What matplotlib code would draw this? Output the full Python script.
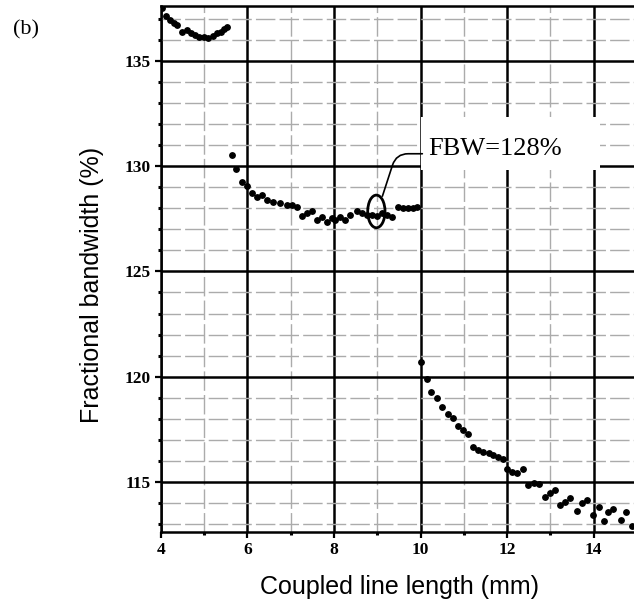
import matplotlib
matplotlib.use('Agg')
import matplotlib.pyplot as plt
from matplotlib.patches import Ellipse, Rectangle

# Segment 1: short lengths
len_a = [4.02, 4.12, 4.21, 4.31, 4.38, 4.50, 4.60, 4.69, 4.79, 4.89,
         5.00, 5.10, 5.20, 5.29, 5.39, 5.46, 5.52]
fbw_a = [137.50, 137.14, 136.95, 136.82, 136.71, 136.36, 136.47, 136.34, 136.24, 136.15,
         136.13, 136.08, 136.19, 136.32, 136.39, 136.51, 136.63]

# Segment 2: middle lengths (FBW ~128%)
len_b = [5.64, 5.73, 5.87, 5.99, 6.10, 6.22, 6.33, 6.45, 6.60, 6.76,
         6.91, 7.03, 7.15, 7.26, 7.37, 7.49, 7.60, 7.72, 7.83, 7.95,
         8.03, 8.14, 8.26, 8.37, 8.53, 8.64, 8.76, 8.87, 8.99, 9.10,
         9.22, 9.33, 9.49, 9.60, 9.72, 9.83, 9.91]
fbw_b = [130.53, 129.86, 129.27, 129.06, 128.74, 128.55, 128.63, 128.40, 128.32, 128.24,
         128.16, 128.16, 128.08, 127.64, 127.79, 127.89, 127.45, 127.60, 127.37, 127.53,
         127.45, 127.60, 127.45, 127.70, 127.89, 127.76, 127.68, 127.68, 127.64, 127.76,
         127.68, 127.60, 128.08, 128.00, 128.00, 128.00, 128.08]

# Segment 3: long lengths
len_c = [10.01, 10.14, 10.24, 10.37, 10.49, 10.63, 10.76, 10.87, 10.99, 11.10,
         11.22, 11.33, 11.45, 11.57, 11.68, 11.80, 11.91, 11.99, 12.11, 12.22,
         12.36, 12.49, 12.61, 12.74, 12.88, 12.99, 13.11, 13.22, 13.34, 13.45,
         13.61, 13.72, 13.85, 13.99, 14.12, 14.24, 14.34, 14.45, 14.62, 14.75, 14.88]
fbw_c = [120.71, 119.88, 119.29, 118.98, 118.58, 118.23, 118.03, 117.66, 117.47, 117.28,
         116.65, 116.52, 116.44, 116.39, 116.28, 116.17, 116.08, 115.60, 115.49, 115.44,
         115.60, 114.86, 114.97, 114.91, 114.30, 114.46, 114.62, 113.91, 114.06, 114.23,
         113.64, 113.99, 114.15, 113.43, 113.83, 113.16, 113.59, 113.70, 113.19, 113.59, 112.91]

x_major = [4, 6, 8, 10, 12, 14]
y_major = [115, 120, 125, 130, 135]

# Highlighted point and its label
mark_x, mark_y = 8.98, 127.85
label_text = 'FBW=128%'

fig = plt.figure(figsize=(6.34, 6.02), dpi=100)
ax = fig.add_axes([0.2535, 0.1163, 0.7465, 0.8737])

ax.set_xlim(4, 14.93)
ax.set_ylim(112.62, 137.61)
ax.set_xticks(x_major)
ax.set_xticks([5, 7, 9, 11, 13], minor=True)
ax.set_yticks(y_major)
ax.set_yticks([v for v in range(113, 138) if v % 5 != 0], minor=True)

ax.set_axisbelow(True)
ax.grid(which='major', color='black', lw=1.8, ls='-')
ax.grid(which='minor', color='#ababab', lw=1.0, ls=(0, (14, 3)))

for side in ['left', 'bottom', 'top']:
    ax.spines[side].set_linewidth(1.8)
ax.spines['right'].set_visible(False)

ax.tick_params(which='major', direction='out', length=4, width=1.6, pad=3,
               labelsize=12.5, right=False, top=False)
ax.tick_params(which='minor', direction='out', length=2.5, width=2.2,
               right=False, top=False)
plt.setp(ax.get_xticklabels() + ax.get_yticklabels(),
         family='Liberation Serif', weight='bold')

# white patch behind the label
ax.add_patch(Rectangle((10.0, 129.82), 4.15, 2.5, facecolor='white',
                       edgecolor='none', zorder=1))

mk = dict(ls='none', marker='o', ms=3.9, color='black', zorder=3)
ax.plot(len_a, fbw_a, **mk)
ax.plot(len_b, fbw_b, **mk)
ax.plot(len_c, fbw_c, **mk)

ax.add_patch(Ellipse((mark_x, mark_y), 0.4, 1.55, fill=False, lw=2,
                     edgecolor='black', zorder=4))
ax.annotate(label_text, xy=(mark_x + 0.12, mark_y + 0.6), xytext=(10.17, 130.8),
            fontsize=19, family='Liberation Serif', va='center', ha='left',
            arrowprops=dict(arrowstyle='-', lw=1.2, color='black',
                            relpos=(0, 0.3),
                            connectionstyle='angle,angleA=0,angleB=72,rad=12'),
            zorder=5)

fig.text(92 / 634, 1 - 285 / 602, 'Fractional bandwidth (%)', rotation=90,
         ha='center', va='center', fontsize=18, family='Liberation Sans')
fig.text(399 / 634, 1 - 587 / 602, 'Coupled line length (mm)',
         ha='center', va='center', fontsize=18, family='Liberation Sans')
fig.text(26 / 634, 1 - 30 / 602, '(b)', ha='center', va='center',
         fontsize=16, family='Liberation Serif')

fig.savefig('out.png', dpi=100)
